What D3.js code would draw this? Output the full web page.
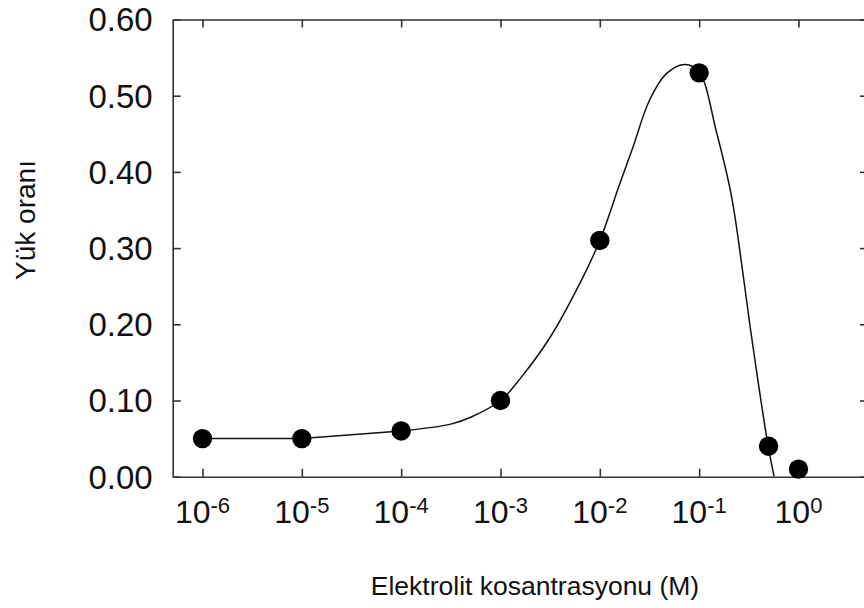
<!DOCTYPE html>
<html>
<head>
<meta charset="utf-8">
<script src="https://cdn.jsdelivr.net/npm/d3@7/dist/d3.min.js"></script>
<style>
  html, body { margin: 0; padding: 0; background: #fff; }
  svg { display: block; font-family: "Liberation Sans", Arial, sans-serif; }
</style>
</head>
<body>
<svg id="chart" width="864" height="608"></svg>
<script>
// Measured charge ratio versus electrolyte concentration (M)
const concentrations = [1e-6, 1e-5, 1e-4, 1e-3, 1e-2, 1e-1, 0.5, 1];
const chargeRatio    = [0.05, 0.05, 0.06, 0.10, 0.31, 0.53, 0.04, 0.01];

// Low-concentration plateau, joined by straight segments (log10 concentration, ratio)
const plateauLogConc = [-6, -5, -4];
const plateauRatio   = [0.05, 0.05, 0.06];

// Smooth fitted curve over the rise, peak and collapse (log10 concentration, ratio)
const fitLogConc = [-4, -3.5, -3.3, -3, -2.8, -2.5, -2.2, -2, -1.8, -1.67, -1.5, -1.33, -1.14, -1.0, -0.825, -0.674, -0.575, -0.49, -0.305, -0.245];
const fitRatio   = [0.06, 0.069, 0.078, 0.10, 0.129, 0.183, 0.254, 0.31, 0.384, 0.431, 0.494, 0.529, 0.541, 0.531, 0.452, 0.368, 0.282, 0.20, 0.04, 0.0];

// Axis ticks
const xTickExponents = [-6, -5, -4, -3, -2, -1, 0];
const yTicks = [0, 0.1, 0.2, 0.3, 0.4, 0.5, 0.6];

const xTitle = "Elektrolit kosantrasyonu (M)";
const yTitle = "Yük oranı";

const svg = d3.select("#chart");
const plotLeft = 172.7, plotRight = 868, plotTop = 19.5, plotBottom = 476.7;

const x = d3.scaleLog().domain([Math.pow(10, -6.3), Math.pow(10, 0.7)]).range([plotLeft, plotRight]);
const y = d3.scaleLinear().domain([0, 0.6]).range([plotBottom, plotTop]);

const frameColor = "#333";
const tickLen = 8;

// Axes: ticks point inward on all four sides
const xTicks = xTickExponents.map(e => Math.pow(10, e));

function styleAxis(g) {
  g.selectAll("path, line").attr("stroke", frameColor).attr("stroke-width", 1.6);
}

svg.append("g")
  .attr("transform", `translate(0,${plotBottom})`)
  .call(d3.axisBottom(x).tickValues(xTicks).tickSizeInner(-tickLen).tickSizeOuter(0).tickFormat(""))
  .call(styleAxis);

svg.append("g")
  .attr("transform", `translate(0,${plotTop})`)
  .call(d3.axisTop(x).tickValues(xTicks).tickSizeInner(-tickLen).tickSizeOuter(0).tickFormat(""))
  .call(styleAxis);

svg.append("g")
  .attr("transform", `translate(${plotLeft},0)`)
  .call(d3.axisLeft(y).tickValues(yTicks).tickSizeInner(-tickLen).tickSizeOuter(0).tickFormat(""))
  .call(styleAxis);

svg.append("g")
  .attr("transform", `translate(${plotRight},0)`)
  .call(d3.axisRight(y).tickValues(yTicks).tickSizeInner(-tickLen).tickSizeOuter(0).tickFormat(""))
  .call(styleAxis);

// Y tick labels
svg.append("g").selectAll("text")
  .data(yTicks)
  .join("text")
  .attr("x", 152.7)
  .attr("y", d => y(d))
  .attr("dy", "0.36em")
  .attr("text-anchor", "end")
  .attr("font-size", 33)
  .attr("fill", "#111")
  .text(d => d.toFixed(2));

// X tick labels as powers of ten
const xl = svg.append("g").selectAll("text")
  .data(xTickExponents)
  .join("text")
  .attr("x", d => x(Math.pow(10, d)))
  .attr("y", 522.7)
  .attr("text-anchor", "middle")
  .attr("font-size", 32)
  .attr("fill", "#111");
xl.append("tspan").text("10");
xl.append("tspan")
  .attr("font-size", 22)
  .attr("dy", -10)
  .text(d => d < 0 ? "-" + Math.abs(d) : String(d));

// Axis titles
svg.append("text")
  .attr("x", 535)
  .attr("y", 595)
  .attr("text-anchor", "middle")
  .attr("font-size", 26.5)
  .attr("fill", "#111")
  .text(xTitle);

svg.append("text")
  .attr("transform", "translate(35,220) rotate(-90)")
  .attr("text-anchor", "middle")
  .attr("font-size", 28)
  .attr("fill", "#111")
  .text(yTitle);

// Fitted curve, clipped to the plot frame
svg.append("clipPath").attr("id", "plotClip")
  .append("rect").attr("x", plotLeft).attr("y", plotTop)
  .attr("width", plotRight - plotLeft).attr("height", plotBottom - plotTop);

const curveGroup = svg.append("g").attr("clip-path", "url(#plotClip)");

const plateauData = plateauLogConc.map((e, i) => ({ c: Math.pow(10, e), v: plateauRatio[i] }));
curveGroup.append("path")
  .datum(plateauData)
  .attr("fill", "none")
  .attr("stroke", "#111")
  .attr("stroke-width", 1.5)
  .attr("d", d3.line().x(d => x(d.c)).y(d => y(d.v)));

const fitData = fitLogConc.map((e, i) => ({ c: Math.pow(10, e), v: fitRatio[i] }));
curveGroup.append("path")
  .datum(fitData)
  .attr("fill", "none")
  .attr("stroke", "#111")
  .attr("stroke-width", 1.5)
  .attr("d", d3.line().x(d => x(d.c)).y(d => y(d.v)).curve(d3.curveCatmullRom.alpha(0.5)));

// Measurement markers
svg.append("g").selectAll("circle")
  .data(concentrations.map((c, i) => ({ c, v: chargeRatio[i] })))
  .join("circle")
  .attr("cx", d => x(d.c))
  .attr("cy", d => y(d.v))
  .attr("r", 9.7)
  .attr("fill", "#000");
</script>
</body>
</html>
